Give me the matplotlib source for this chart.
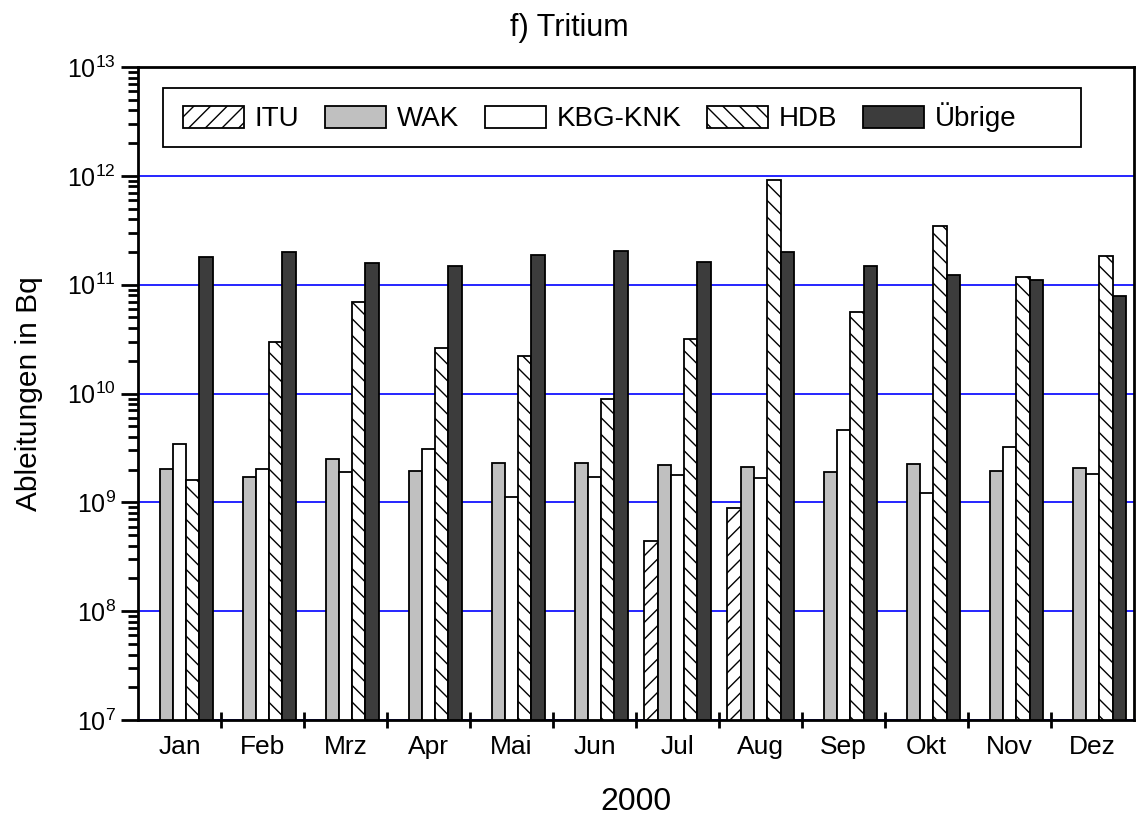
import numpy as np
import matplotlib.pyplot as plt
from matplotlib.patches import Rectangle
from matplotlib.ticker import FixedLocator, NullFormatter

plt.rcParams['font.family'] = ['Liberation Sans', 'DejaVu Sans']
plt.rcParams['hatch.linewidth'] = 1.0

months = ['Jan', 'Feb', 'Mrz', 'Apr', 'Mai', 'Jun', 'Jul', 'Aug', 'Sep', 'Okt', 'Nov', 'Dez']
nan = np.nan
itu = [nan, nan, nan, nan, nan, nan, 4.3e8, 8.7e8, nan, nan, nan, nan]
wak = [2.0e9, 1.7e9, 2.5e9, 1.95e9, 2.3e9, 2.3e9, 2.2e9, 2.1e9, 1.88e9, 2.24e9, 1.94e9, 2.05e9]
kbg = [3.4e9, 2.0e9, 1.9e9, 3.1e9, 1.1e9, 1.7e9, 1.76e9, 1.68e9, 4.6e9, 1.2e9, 3.2e9, 1.8e9]
hdb = [1.6e9, 3.0e10, 6.9e10, 2.6e10, 2.2e10, 8.9e9, 3.2e10, 9.2e11, 5.6e10, 3.47e11, 1.19e11, 1.84e11]
ubr = [1.8e11, 2.0e11, 1.58e11, 1.48e11, 1.86e11, 2.05e11, 1.61e11, 2.0e11, 1.48e11, 1.24e11, 1.1e11, 7.9e10]
decades = [7, 8, 9, 10, 11, 12, 13]

series = [('ITU', itu, 'white', '//'),
          ('WAK', wak, '#c0c0c0', None),
          ('KBG-KNK', kbg, 'white', None),
          ('HDB', hdb, 'white', '\\\\'),
          ('Übrige', ubr, '#3c3c3c', None)]

fig = plt.figure(figsize=(11.39, 8.16), dpi=100)
ax = fig.add_axes([0.1212, 0.1176, 0.8745, 0.8002])

x = np.arange(len(months))
w = 0.16
for k, (name, vals, col, hatch) in enumerate(series):
    ax.bar(x + (k - 2) * w, vals, width=w, bottom=1e7, color=col, edgecolor='black',
           linewidth=1.3, hatch=hatch, label=name, zorder=3)

ax.set_yscale('log')
ax.set_ylim(1e7, 1e13)
ax.set_xlim(-0.5, 11.5)
major = [10.0 ** d for d in decades]
minor = [m * 10.0 ** d for d in decades[:-1] for m in range(2, 10)]
ax.yaxis.set_major_locator(FixedLocator(major))
ax.yaxis.set_minor_locator(FixedLocator(minor))
ax.yaxis.set_minor_formatter(NullFormatter())
ax.grid(axis='y', which='major', color='#0000ff', linewidth=1.2, zorder=1)

ax.set_xticks(x)
ax.set_xticklabels(months)
ax.xaxis.set_minor_locator(FixedLocator(np.arange(0.5, 11, 1)))
ax.tick_params(axis='x', which='major', length=0, labelsize=19, pad=11)
ax.tick_params(axis='x', which='minor', length=12, width=2, direction='inout')
ax.tick_params(axis='y', which='major', length=12, width=2, labelsize=18, direction='out', pad=4)
ax.tick_params(axis='y', which='minor', length=7, width=2, direction='out')

for s in ax.spines.values():
    s.set_linewidth(2)

ax.set_ylabel('Ableitungen in Bq', fontsize=21.5, labelpad=17)
ax.set_xlabel('2000', fontsize=23, labelpad=20)
fig.text(0.5, 0.966, 'f) Tritium', fontsize=22, ha='center', va='center')

# legend frame drawn separately (wider than the entries)
ax.add_patch(Rectangle((0.0251, 0.8775), 0.9217, 0.0903, transform=ax.transAxes,
                       facecolor='white', edgecolor='black', linewidth=1.3, zorder=4))
leg = ax.legend(ncol=5, loc='center left', bbox_to_anchor=(0.0311, 0.9227), fontsize=20,
                frameon=False, handlelength=2.2, handleheight=0.85, columnspacing=0.93,
                handletextpad=0.38, borderpad=0.5, borderaxespad=0)
leg.set_zorder(5)

fig.savefig('out.png', dpi=100)
